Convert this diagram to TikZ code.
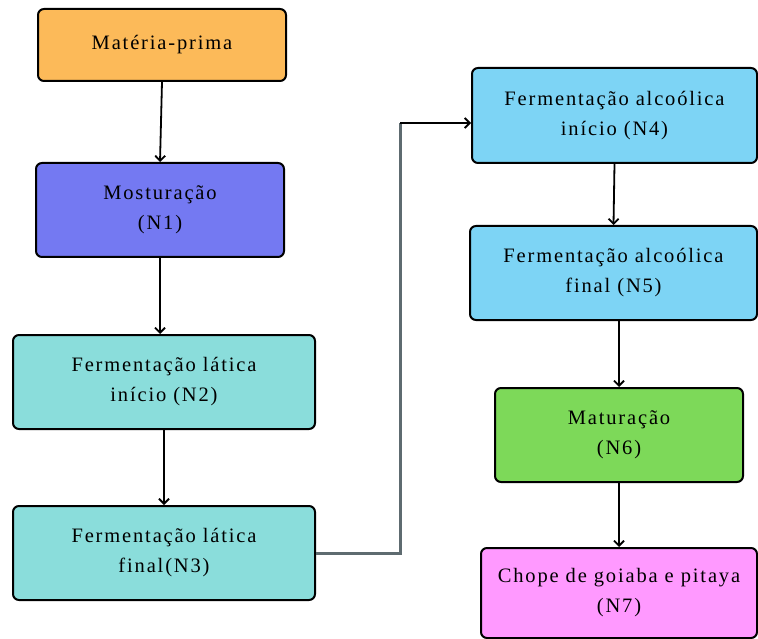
\documentclass[tikz,border=0pt]{standalone}
\usepackage{fontspec}
\newfontfamily\stagefont{Liberation Serif}[LetterSpace=9]
\usetikzlibrary{arrows.meta,calc}
\definecolor{RawClr}{rgb}{0.99,0.73,0.35}
\definecolor{MashClr}{rgb}{0.455,0.475,0.95}
\definecolor{LacticClr}{rgb}{0.54,0.867,0.86}
\definecolor{AlcoholClr}{rgb}{0.49,0.83,0.96}
\definecolor{MatureClr}{rgb}{0.49,0.85,0.35}
\definecolor{DraftClr}{rgb}{1,0.6,1}
\definecolor{LinkClr}{rgb}{0.37,0.42,0.44}

\begin{document}
\begin{tikzpicture}[x=1pt,y=-1pt,
  stage/.style={draw=black,line width=2pt,rounded corners=6pt,align=center,
    inner sep=0pt,font=\stagefont\fontsize{20.5}{30}\selectfont},
  flow/.style={line width=1.8pt,-{Straight Barb[length=5pt,width=10pt]}},
  link/.style={line width=3pt,color=LinkClr}]
\useasboundingbox (0,0) rectangle (758,639);

\node[stage,fill=RawClr,minimum width=248,minimum height=72] (MP) at (162,45) {Matéria-prima};
\node[stage,fill=MashClr,minimum width=248,minimum height=94] (N1) at (160,210) {Mosturação\\(N1)};
\node[stage,fill=LacticClr,minimum width=302,minimum height=94] (N2) at (164,382) {Fermentação lática\\início (N2)};
\node[stage,fill=LacticClr,minimum width=302,minimum height=94] (N3) at (164,553) {Fermentação lática\\final(N3)};
\node[stage,fill=AlcoholClr,minimum width=285,minimum height=95] (N4) at (614.5,115.5) {Fermentação alcoólica\\início (N4)};
\node[stage,fill=AlcoholClr,minimum width=287,minimum height=94] (N5) at (613.5,273) {Fermentação alcoólica\\final (N5)};
\node[stage,fill=MatureClr,minimum width=248,minimum height=94] (N6) at (619,435) {Maturação\\(N6)};
\node[stage,fill=DraftClr,minimum width=276,minimum height=90] (N7) at (619,593) {Chope de goiaba e pitaya\\(N7)};

\draw[flow] (MP.south) -- (N1.north);
\draw[flow] (N1.south) -- (N1.south |- N2.north);
\draw[flow] (N2.south) -- (N3.north);
\draw[flow] (N4.south) -- (N5.north);
\draw[flow] (N6.north |- N5.south) -- (N6.north);
\draw[flow] (N6.south) -- (N7.north);

\coordinate (Bend) at (400,123);
\draw[link] (N3.east) -| (Bend);
\draw[flow] (Bend) -- (Bend -| N4.west);

\end{tikzpicture}
\end{document}
